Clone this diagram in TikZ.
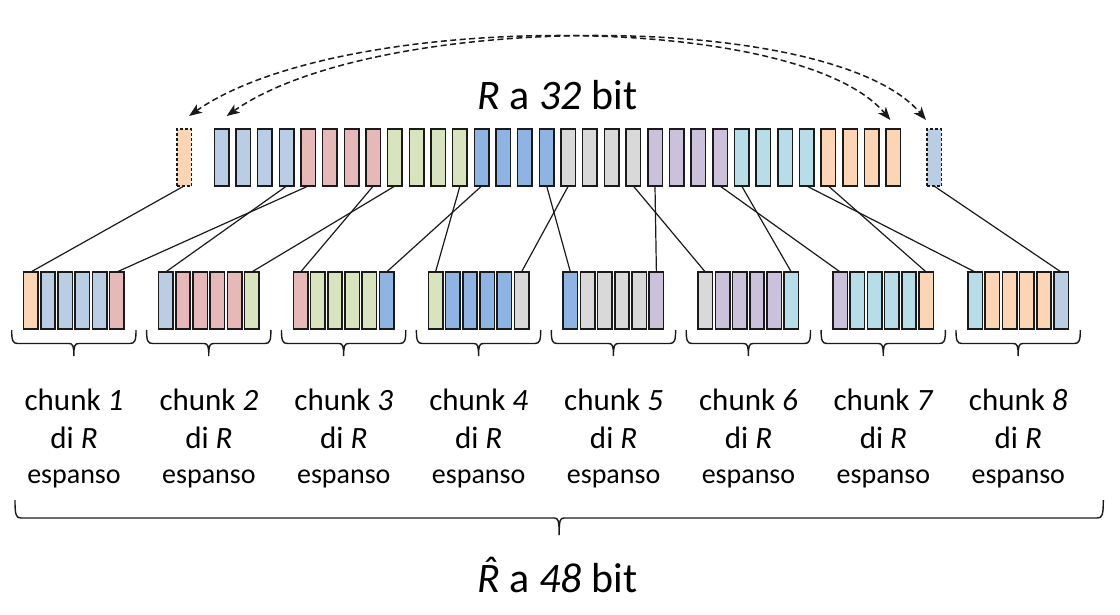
\documentclass[tikz,border=0pt]{standalone}
\usepackage{fontspec}
\setmainfont{Carlito}
\usetikzlibrary{arrows.meta}
\definecolor{c1}{HTML}{B9CDE5}
\definecolor{c2}{HTML}{E6B9B8}
\definecolor{c3}{HTML}{D7E4BD}
\definecolor{c4}{HTML}{8EB4E3}
\definecolor{c5}{HTML}{D9D9D9}
\definecolor{c6}{HTML}{CCC1DA}
\definecolor{c7}{HTML}{B7DEE8}
\definecolor{c8}{HTML}{FCD5B5}
\definecolor{ink}{HTML}{1A1A1A}
\newcommand{\obrace}[5]{%
  \pgfmathsetmacro\bxa{#1}\pgfmathsetmacro\bxb{#2}\pgfmathsetmacro\bxc{(#1+#2)/2}%
  \draw[brc] (\bxa,#3) .. controls (\bxa,{#4-3}) and ({\bxa+1},#4) .. ({\bxa+6},#4)
    -- ({\bxc-5},#4) .. controls ({\bxc-1},#4) and (\bxc,{#4+2}) .. (\bxc,#5)
    (\bxc,#5) .. controls (\bxc,{#4+2}) and ({\bxc+1},#4) .. ({\bxc+5},#4)
    -- ({\bxb-6},#4) .. controls ({\bxb-1},#4) and (\bxb,{#4-3}) .. (\bxb,#3);
}
\newcommand{\hatR}{{\itshape\accent"02C6 R}}
\begin{document}
\begin{tikzpicture}[x=1pt,y=-1pt,
  bitbox/.style={draw=ink, line width=1.6pt, minimum width=14.6pt, minimum height=57pt,
    inner sep=0pt, outer sep=0pt, anchor=north west},
  copybox/.style={bitbox, dash pattern=on 3pt off 2pt},
  conn/.style={draw=ink, line width=1.2pt},
  dasharc/.style={draw=ink, line width=1.5pt, dash pattern=on 6pt off 3.5pt,
    arrows={Stealth[length=13pt,width=10pt,inset=3.5pt]-Stealth[length=13pt,width=10pt,inset=3.5pt]}},
  brc/.style={draw=ink, line width=1.4pt},
  bigtxt/.style={anchor=base, inner sep=0pt, font=\fontsize{42}{50}\selectfont},
  chtxt/.style={anchor=base, inner sep=0pt, font=\fontsize{31}{37}\selectfont},
  estxt/.style={anchor=base, inner sep=0pt, font=\fontsize{28}{34}\selectfont}]
\useasboundingbox (0,0) rectangle (1120,615);

% top row: R a 32 bit
\foreach \i in {1,...,32}{
  \pgfmathtruncatemacro\cc{int((\i+3)/4)}
  \node[bitbox, fill=c\cc] (t\i) at ({214.3+21.67*(\i-1)},129) {};
}
\node[copybox, fill=c8] (t0) at (176.7,129) {};
\node[copybox, fill=c1] (t33) at (926.7,129) {};

% bottom row: expanded chunks
\foreach \j in {1,...,8}{
  \foreach \k in {0,...,5}{
    \pgfmathtruncatemacro\bb{4*(\j-1)+\k}
    \pgfmathtruncatemacro\bc{\bb==0 ? 32 : (\bb==33 ? 1 : \bb)}
    \pgfmathtruncatemacro\cc{int((\bc+3)/4)}
    \node[bitbox, fill=c\cc, minimum width=14.4pt] (b\j-\k) at ({23.6+134.9*(\j-1)+17.2*\k},272) {};
  }
}

% connectors
\foreach \j in {1,...,8}{
  \pgfmathtruncatemacro\s{4*(\j-1)}
  \pgfmathtruncatemacro\e{4*\j+1}
  \draw[conn] (t\s.south) -- (b\j-0.north);
  \draw[conn] (t\e.south) -- (b\j-5.north);
}

% copy arcs
\draw[dasharc] ([xshift=5pt,yshift=13pt]t0.north) .. controls (340,10) and (798,10) .. ([xshift=-3pt,yshift=9pt]t32.north);
\draw[dasharc] ([xshift=5pt,yshift=13pt]t1.north) .. controls (378,10) and (834,10) .. ([xshift=-8pt,yshift=9pt]t33.north);

% titles
\node[bigtxt] (rtitle) at (557.5,110) {\textit{R} a \textit{32} bit};
\node[bigtxt] (rhat) at (557.5,592.7) {\hatR{} a \textit{48} bit};

% braces and chunk labels
\foreach \j in {1,...,8}{
  \pgfmathsetmacro\gx{23.6+134.9*(\j-1)}
  \pgfmathsetmacro\gc{\gx+50.4}
  \obrace{\gx-11.9}{\gx+112.4}{330}{343.5}{356}
  \node[chtxt] (ch\j) at (\gc,410) {chunk \textit{\j}};
  \node[chtxt] (di\j) at (\gc,448) {di \textit{R}};
  \node[estxt] (es\j) at (\gc,483) {espanso};
}
\obrace{15}{1103.3}{500}{518}{535}
\end{tikzpicture}
\end{document}
